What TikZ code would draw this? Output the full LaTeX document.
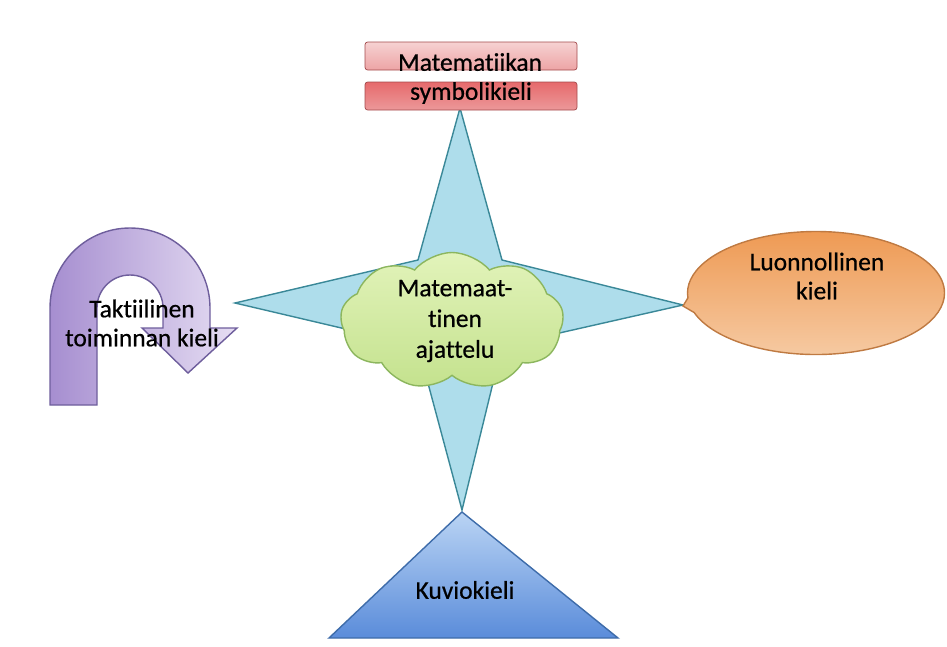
\documentclass[tikz,border=0pt]{standalone}
\usepackage{fontspec}
\setmainfont{Carlito}[Ligatures={NoCommon,NoContextual}]
\newfontfamily\lblfont{Carlito}[FakeBold=0.6,Ligatures={NoCommon,NoContextual}]
\usepackage{xcolor}
\usetikzlibrary{shapes.symbols, shapes.callouts}

\definecolor{starfill}{HTML}{AEDDEB}
\definecolor{stardraw}{HTML}{3A8898}
\definecolor{boxdraw}{HTML}{A34A4C}
\definecolor{boxlight}{HTML}{F6D2D2}
\definecolor{boxmid}{HTML}{EDA4A5}
\definecolor{boxred}{HTML}{E66A6C}
\definecolor{cloudtop}{HTML}{E2F3BA}
\definecolor{cloudbot}{HTML}{C4E28E}
\definecolor{clouddraw}{HTML}{8CB65E}
\definecolor{bubbletop}{HTML}{EE9A54}
\definecolor{bubblebot}{HTML}{F6CCA6}
\definecolor{bubbledraw}{HTML}{BF7A42}
\definecolor{triatop}{HTML}{BAD4F4}
\definecolor{triabot}{HTML}{5A8CDA}
\definecolor{triadraw}{HTML}{3E6CAA}
\definecolor{uleft}{HTML}{A68ED0}
\definecolor{uright}{HTML}{E6DEF3}
\definecolor{udraw}{HTML}{6E5E9C}

\begin{document}
\begin{tikzpicture}[x=0.2mm,y=-0.2mm,
  lbl/.style={font=\lblfont\fontsize{14.5}{16.5}\selectfont, align=center, inner sep=0pt},
  symbbox/.style={draw=boxdraw, rectangle, rounded corners=1.5pt, minimum width=4.24cm, minimum height=0.56cm, inner sep=0pt}]
\useasboundingbox (0,0) rectangle (947,646);
%\draw[step=50,gray!30,very thin] (0,0) grid (947,646); %background grid

% star behind everything
\draw[stardraw, thick, fill=starfill] (460,108) -- (502,260) -- (683,305) -- (502,346) -- (462,510) -- (418,346) -- (235,303) -- (418,260) -- cycle;

% symbol language, top
\node[symbbox, top color=boxlight, bottom color=boxmid] (symb1) at (471,56) {};
\node[symbbox, top color=boxred, bottom color=boxmid!80!boxred] (symb2) at (471,96) {};
\node[lbl] (symb1txt) at (470,62) {Matematiikan};
\node[lbl] (symb2txt) at (471,93) {symbolikieli};

% thinking, centre
\node[cloud, cloud puffs=9, cloud puff arc=100, cloud ignores aspect, draw=clouddraw, thick, top color=cloudtop, bottom color=cloudbot, minimum width=4.46cm, minimum height=2.74cm] (ajattelu) at (452,321) {};
\node[lbl, font=\lblfont\fontsize{14.5}{17.5}\selectfont] (ajatteluTxt) at (455,321) {Matemaat-\\tinen\\ajattelu};

% natural language, right
\node[ellipse callout, callout absolute pointer={(683,306)}, callout pointer arc=14, draw=bubbledraw, thick, top color=bubbletop, bottom color=bubblebot, minimum width=5.14cm, minimum height=2.46cm] (kieli) at (816,293) {};
\node[lbl] (kieliTxt) at (817,276) {Luonnollinen\\kieli};

% pictorial language, bottom
\draw[triadraw, thick, top color=triatop, bottom color=triabot] (462,512) -- (618,638) -- (329,638) -- cycle;
\node[lbl] (kuvio) at (465,590) {Kuviokieli};

% tactile language, left
\draw[udraw, thick, left color=uleft, right color=uright] (50,405) -- (50,308) arc (180:360:80) -- (210,328) -- (237,328) -- (188,373) -- (142,328) -- (163,328) -- (163,308) arc (360:180:33) -- (97,405) -- cycle;
\node[lbl] (taktiili) at (142,323) {Taktiilinen\\toiminnan kieli};
\end{tikzpicture}
\end{document}
